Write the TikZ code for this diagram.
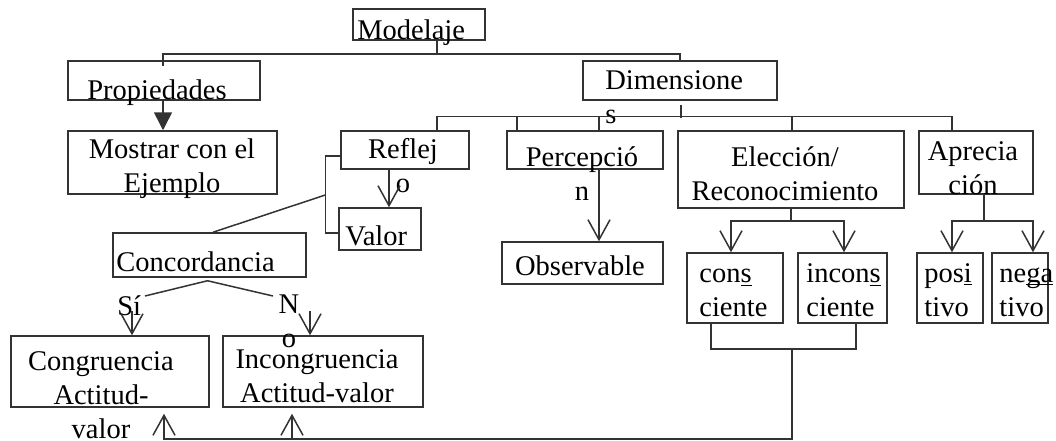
\documentclass[tikz,border=0pt]{standalone}
\usepackage{fontspec}
\setmainfont{Liberation Serif}
\usetikzlibrary{arrows.meta,calc,fit}

\begin{document}
\begin{tikzpicture}[
        x=0.5pt, y=-0.5pt,
        every node/.style={font=\fontsize{14.25}{17}\selectfont},
        box/.style={draw=black!80, line width=0.75pt, inner sep=0pt},
        txt/.style={inner sep=0pt, anchor=base},
        con/.style={draw=black!80, line width=0.75pt},
        openarr/.style={con, -{Straight Barb[length=10pt,width=11pt]}},
        fillarr/.style={con, -{Triangle[length=9pt,width=9pt]}},
    ]
    \useasboundingbox (0,0) rectangle (1056,440);

    % Boxes
    \node[box, fit={(353,9) (485,40)}] (modelaje) {};
    \node[box, fit={(68,61) (260,100)}] (propiedades) {};
    \node[box, fit={(68,131) (277,194)}] (mostrar) {};
    \node[box, fit={(583,61) (777,100)}] (dimensiones) {};
    \node[box, fit={(341,131) (469,169)}] (reflejo) {};
    \node[box, fit={(507,131) (663,169)}] (percepcion) {};
    \node[box, fit={(678,131) (904,208)}] (eleccion) {};
    \node[box, fit={(919,131) (1033,194)}] (apreciacion) {};
    \node[box, fit={(339,208) (421,250)}] (valor) {};
    \node[box, fit={(502,242) (663,284)}] (observable) {};
    \node[box, fit={(113,233) (306,277)}] (concordancia) {};
    \node[box, fit={(11,336) (209,407)}] (congruencia) {};
    \node[box, fit={(223,336) (423,407)}] (incongruencia) {};
    \node[box, fit={(687,253) (783,323)}] (consciente) {};
    \node[box, fit={(798,253) (887,323)}] (inconsciente) {};
    \node[box, fit={(917,253) (983,323)}] (positivo) {};
    \node[box, fit={(992,253) (1048,323)}] (negativo) {};

    % Texts (multi-line ones sit on their last baseline)
    \node[txt, anchor=base west] (modelajeT) at (357,39) {Modelaje};
    \node[txt, anchor=base west] (propiedadesT) at (87,99) {Propiedades};
    \node[txt, align=center] (mostrarT) at (172,192) {Mostrar con el\\Ejemplo};
    \node[txt, anchor=base west, align=left] (dimensionesT) at (605,123) {Dimensione\\s};
    \node[txt, align=center] (reflejoT) at (403,192) {Reflej\\o};
    \node[txt, align=center] (percepcionT) at (582,200) {Percepció\\n};
    \node[txt, align=center] (eleccionT) at (785,200) {Elección/\\Reconocimiento};
    \node[txt, align=center] (apreciacionT) at (973,194) {Aprecia\\ción};
    \node[txt, anchor=base west] (valorT) at (345,245) {Valor};
    \node[txt] (observableT) at (580,275) {Observable};
    \node[txt, anchor=base west] (concordanciaT) at (116,271) {Concordancia};
    \node[txt, align=center] (congruenciaT) at (101,438) {Congruencia\\Actitud-\\valor};
    \node[txt, align=center] (incongruenciaT) at (317,402) {Incongruencia\\Actitud-valor};
    \node[txt, anchor=base west, align=left] (conscienteT) at (699,316) {con\underline{s}\\ciente};
    \node[txt, anchor=base west, align=left] (inconscienteT) at (806,316) {incon\underline{s}\\ciente};
    \node[txt, anchor=base west, align=left] (positivoT) at (924,316) {pos\underline{i}\\tivo};
    \node[txt, anchor=base west, align=left] (negativoT) at (999,316) {ne\underline{\smash{ga}}\\tivo};
    \node[txt, anchor=base west] (siT) at (117,315) {Sí};
    \node[txt, align=center] (noT) at (289,347) {N\\o};

    % Modelaje branches
    \draw[con] ($(modelaje.south)+(18,0)$) -- ++(0,13) -| ($(propiedades.north)+(-1,6)$);
    \draw[con] ($(modelaje.south)+(18,13)$) -| (dimensiones.north);
    \draw[fillarr] ($(propiedades.south)+(-1,0)$) coordinate (p) -- (p |- mostrar.north);

    % Dimensiones branches
    \draw[con] ($(dimensiones.south)+(1,4)$) -- ++(0,13);
    \draw[con] ($(reflejo.north)+(32,0)$) |- ($(apreciacion.north)+(-24,-14)$) -- ($(apreciacion.north)+(-24,0)$);
    \draw[con] ($(percepcion.north)+(-68,0)$) -- ++(0,-14);
    \draw[con] ($(percepcion.north)+(14,0)$) -- ++(0,-14);
    \draw[con] ($(eleccion.north)+(1,0)$) -- ++(0,-14);
    \draw[openarr] ($(percepcion.south)+(14,0)$) coordinate (q) -- (q |- observable.north);

    % Reflejo
    \draw[openarr] ($(reflejo.south)+(-16,0)$) coordinate (r) -- (r |- valor.north);
    \draw[con] ($(reflejo.west)+(0,6)$) -- ++(-15,0) |- ($(valor.west)+(0,4)$);
    \draw[con] ($(reflejo.west)+(-15,45)$) -- ($(concordancia.north)+(3.5,0)$);

    % Concordancia
    \coordinate (siend) at (145,296);
    \coordinate (noend) at (273,296);
    \draw[con] (siend) -- ($(concordancia.south)+(-2,3)$) -- (noend);
    \draw[openarr] ($(congruencia.north)+(22,-24)$) -- ($(congruencia.north)+(22,0)$);
    \draw[openarr] ($(incongruencia.north)+(-13,-24)$) -- ($(incongruencia.north)+(-13,0)$);

    % Eleccion and Apreciacion
    \draw[openarr] (eleccion.south) -- ++(0,12) -| ($(consciente.north)+(-4,0)$);
    \draw[openarr] ($(eleccion.south)+(0,12)$) -| ($(inconsciente.north)+(1.5,0)$);
    \draw[openarr] ($(apreciacion.south)+(8,0)$) -- ++(0,26) -| ($(positivo.north)+(2,0)$);
    \draw[openarr] ($(apreciacion.south)+(8,26)$) -| ($(negativo.north)+(13,0)$);

    % Return to congruencia
    \draw[con] ($(consciente.south)+(-24,0)$) -- ++(0,25) -| ($(inconsciente.south)+(13.5,0)$);
    \coordinate (union) at ($(eleccion.south)+(1,140)$);
    \draw[openarr] (union) -- ++(0,90) -| ($(congruencia.south)+(54,6)$);
    \draw[openarr] ($(incongruencia.south)+(-31,31)$) -- ++(0,-25);
\end{tikzpicture}
\end{document}
